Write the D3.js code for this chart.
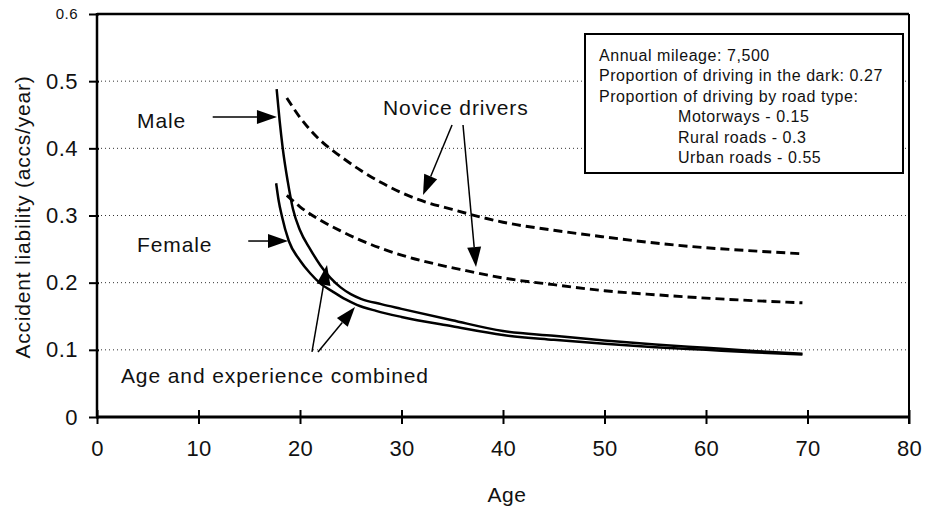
<!DOCTYPE html>
<html>
<head>
<meta charset="utf-8">
<script src="https://cdn.jsdelivr.net/npm/d3@7"></script>
<style>
  html, body { margin: 0; padding: 0; background: #fff; }
  svg { display: block; font-family: "Liberation Sans", Arial, Helvetica, sans-serif; }
</style>
</head>
<body>
<svg id="chart" width="935" height="511"></svg>
<script>
// ---------- data ----------
const xTicks = [0, 10, 20, 30, 40, 50, 60, 70, 80];
const yTicks = [0, 0.1, 0.2, 0.3, 0.4, 0.5, 0.6];

// Age and experience combined (solid)
const maleCombinedAge = [17.7, 18.0, 18.3, 18.8, 19.3, 20, 21, 22, 23, 24, 25, 26, 28, 30, 35, 40, 45, 50, 55, 60, 65, 69.5];
const maleCombinedVal = [0.488, 0.44, 0.40, 0.35, 0.31, 0.278, 0.25, 0.226, 0.207, 0.193, 0.183, 0.176, 0.168, 0.161, 0.144, 0.128, 0.121, 0.114, 0.108, 0.103, 0.098, 0.094];

const femaleCombinedAge = [17.65, 17.9, 18.2, 18.9, 20, 21, 22, 23.3, 24.5, 25.6, 27.5, 30, 35, 40, 45, 50, 55, 60, 65, 69.5];
const femaleCombinedVal = [0.348, 0.322, 0.30, 0.262, 0.233, 0.214, 0.199, 0.186, 0.175, 0.167, 0.158, 0.149, 0.135, 0.122, 0.115, 0.109, 0.104, 0.100, 0.096, 0.093];

// Novice drivers (dashed)
const maleNoviceAge = [18.7, 20, 22, 24, 26, 28, 30, 32, 35, 40, 45, 50, 55, 60, 65, 69.5];
const maleNoviceVal = [0.475, 0.446, 0.412, 0.388, 0.367, 0.349, 0.334, 0.322, 0.309, 0.290, 0.278, 0.268, 0.259, 0.252, 0.247, 0.243];

const femaleNoviceAge = [18.7, 20, 22, 24, 26, 28, 30, 33, 36, 40, 45, 50, 55, 60, 65, 69.5];
const femaleNoviceVal = [0.33, 0.313, 0.293, 0.277, 0.263, 0.251, 0.241, 0.229, 0.219, 0.207, 0.197, 0.188, 0.182, 0.177, 0.173, 0.170];

const infoLines = [
  "Annual mileage:  7,500",
  "Proportion of driving in the dark: 0.27",
  "Proportion of driving by road type:",
  "Motorways - 0.15",
  "Rural roads - 0.3",
  "Urban roads - 0.55"
];
const infoIndent = [false, false, false, true, true, true];

// annotation labels (in data units: age, liability)
const labelTexts = ["Male", "Female", "Novice drivers", "Age and experience combined"];
const labelAge = [3.94, 3.94, 28.18, 2.36];
const labelVal = [0.430, 0.2456, 0.4496, 0.0506];

// annotation arrows [fromAge, fromVal, toAge, toVal]
const arrowFromAge = [11.4, 14.9, 34.98, 36.06, 21.18, 21.77];
const arrowFromVal = [0.4466, 0.262, 0.4347, 0.4347, 0.0968, 0.0968];
const arrowToAge   = [17.73, 18.82, 32.12, 37.34, 22.66, 25.42];
const arrowToVal   = [0.4466, 0.262, 0.3305, 0.2233, 0.2263, 0.1638];

// ---------- chart ----------
const svg = d3.select("#chart");
const pLeft = 97, pRight = 909, pTop = 14, pBottom = 417;
const x = d3.scaleLinear().domain([0, 80]).range([pLeft, pRight]);
const y = d3.scaleLinear().domain([0, 0.6]).range([pBottom, pTop]);

// gridlines
svg.append("g").selectAll("line")
  .data(yTicks.filter(d => d > 0 && d < 0.6))
  .join("line")
  .attr("x1", pLeft).attr("x2", pRight)
  .attr("y1", d => y(d)).attr("y2", d => y(d))
  .attr("stroke", "#333").attr("stroke-width", 1)
  .attr("stroke-dasharray", "1,3");

// axes
const yAxis = svg.append("g").attr("transform", `translate(${pLeft},0)`)
  .call(d3.axisLeft(y).tickValues(yTicks).tickSize(8).tickPadding(11)
    .tickFormat(d => d === 0 ? "0" : d3.format(".1f")(d)));
yAxis.select(".domain").remove();
yAxis.selectAll(".tick line").attr("x2", 2).attr("x1", -8).attr("stroke", "#000").attr("stroke-width", 2);
yAxis.selectAll(".tick text")
  .attr("font-size", d => d === 0.6 ? 15 : 22)
  .attr("letter-spacing", 0.5)
  .attr("fill", "#111")
  .attr("font-family", "Liberation Sans, Arial, sans-serif");

const xAxis = svg.append("g").attr("transform", `translate(0,${pBottom})`)
  .call(d3.axisBottom(x).tickValues(xTicks).tickSize(7).tickPadding(16));
xAxis.select(".domain").remove();
xAxis.selectAll(".tick line").attr("y1", -7).attr("y2", 7).attr("stroke", "#000").attr("stroke-width", 2);
xAxis.selectAll(".tick text")
  .attr("y", 23)
  .attr("font-size", 22)
  .attr("letter-spacing", 0.3)
  .attr("fill", "#111")
  .attr("font-family", "Liberation Sans, Arial, sans-serif");

// frame
svg.append("line").attr("x1", pLeft).attr("x2", pRight).attr("y1", pTop).attr("y2", pTop)
  .attr("stroke", "#000").attr("stroke-width", 2.5);
svg.append("line").attr("x1", pRight).attr("x2", pRight).attr("y1", pTop).attr("y2", pBottom + 7)
  .attr("stroke", "#000").attr("stroke-width", 2);
svg.append("line").attr("x1", pLeft).attr("x2", pLeft).attr("y1", pTop - 1).attr("y2", pBottom + 1)
  .attr("stroke", "#000").attr("stroke-width", 2.5);
svg.append("line").attr("x1", pLeft - 1).attr("x2", pRight + 1).attr("y1", pBottom).attr("y2", pBottom)
  .attr("stroke", "#000").attr("stroke-width", 3);

// lines
const line = d3.line().x(d => x(d[0])).y(d => y(d[1])).curve(d3.curveMonotoneX);
const zip = (a, b) => a.map((v, i) => [v, b[i]]);
const series = [
  { d: zip(maleNoviceAge, maleNoviceVal), dash: "9,5", w: 2.9 },
  { d: zip(femaleNoviceAge, femaleNoviceVal), dash: "9,5", w: 2.9 },
  { d: zip(maleCombinedAge, maleCombinedVal), dash: null, w: 2.5 },
  { d: zip(femaleCombinedAge, femaleCombinedVal), dash: null, w: 2.5 }
];
svg.append("g").selectAll("path").data(series).join("path")
  .attr("d", s => line(s.d))
  .attr("fill", "none")
  .attr("stroke", "#000")
  .attr("stroke-width", s => s.w)
  .attr("stroke-dasharray", s => s.dash);

// info box
const boxX = 585, boxY = 34, boxW = 318, boxH = 139;
svg.append("rect").attr("x", boxX).attr("y", boxY).attr("width", boxW).attr("height", boxH)
  .attr("fill", "#fff").attr("stroke", "#000").attr("stroke-width", 2);
svg.append("g").selectAll("text").data(infoLines).join("text")
  .attr("x", (d, i) => infoIndent[i] ? 678 : 599)
  .attr("y", (d, i) => 61 + i * 20.4)
  .attr("font-size", 16)
  .attr("letter-spacing", 0.55)
  .attr("fill", "#111")
  .text(d => d);

// annotation labels
svg.append("g").selectAll("text").data(labelTexts).join("text")
  .attr("x", (d, i) => x(labelAge[i]))
  .attr("y", (d, i) => y(labelVal[i]))
  .attr("font-size", 21)
  .attr("letter-spacing", 0.9)
  .attr("fill", "#111")
  .text(d => d);

// arrows
const arrows = arrowFromAge.map((a, i) => ({
  x1: x(a), y1: y(arrowFromVal[i]), x2: x(arrowToAge[i]), y2: y(arrowToVal[i])
}));
const ag = svg.append("g");
arrows.forEach(a => {
  const dx = a.x2 - a.x1, dy = a.y2 - a.y1;
  const len = Math.hypot(dx, dy);
  const ux = dx / len, uy = dy / len;
  const hl = 20, hw = 7;
  const bx = a.x2 - ux * hl, by = a.y2 - uy * hl;
  ag.append("line").attr("x1", a.x1).attr("y1", a.y1).attr("x2", bx).attr("y2", by)
    .attr("stroke", "#000").attr("stroke-width", 1.5);
  ag.append("path")
    .attr("d", `M${a.x2},${a.y2}L${bx - uy * hw},${by + ux * hw}L${bx + uy * hw},${by - ux * hw}Z`)
    .attr("fill", "#000");
});

// axis titles
svg.append("text").attr("x", 507).attr("y", 502).attr("text-anchor", "middle")
  .attr("font-size", 21).attr("letter-spacing", 0.5).attr("fill", "#111").text("Age");
svg.append("text").attr("transform", "translate(30,217) rotate(-90)")
  .attr("text-anchor", "middle")
  .attr("font-size", 21).attr("letter-spacing", 0.8).attr("fill", "#111")
  .text("Accident liability (accs/year)");
</script>
</body>
</html>
